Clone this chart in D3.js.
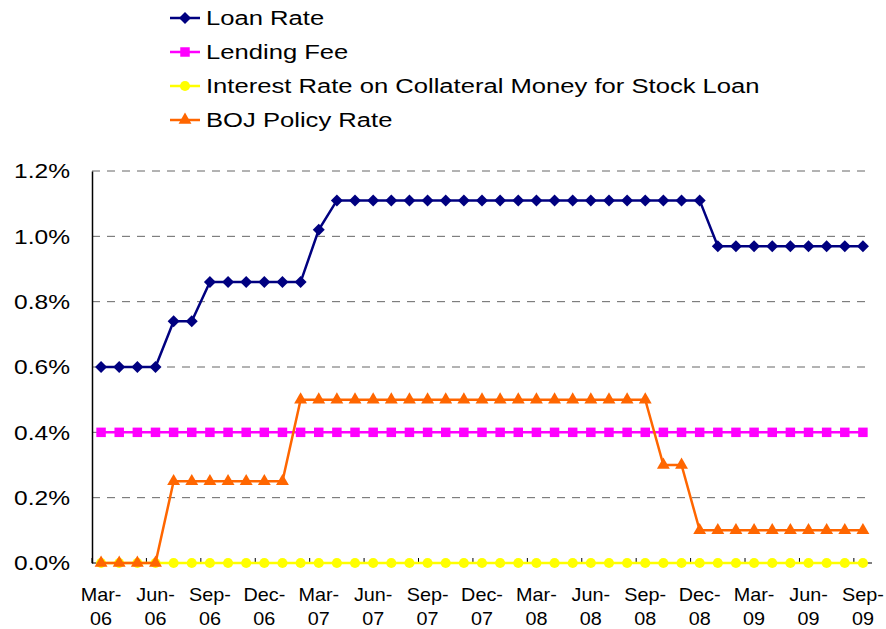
<!DOCTYPE html>
<html>
<head>
<meta charset="utf-8">
<script src="https://cdn.jsdelivr.net/npm/d3@7"></script>
<style>
  body { margin: 0; background: #fff; }
  text { font-family: "Liberation Sans", Arial, sans-serif; fill: #000; }
</style>
</head>
<body>
<div id="chart"></div>
<script>
// month-end observations, Mar-06 .. Sep-09
const months = [
  "Mar-06","Apr-06","May-06","Jun-06","Jul-06","Aug-06","Sep-06","Oct-06","Nov-06","Dec-06",
  "Jan-07","Feb-07","Mar-07","Apr-07","May-07","Jun-07","Jul-07","Aug-07","Sep-07","Oct-07","Nov-07","Dec-07",
  "Jan-08","Feb-08","Mar-08","Apr-08","May-08","Jun-08","Jul-08","Aug-08","Sep-08","Oct-08","Nov-08","Dec-08",
  "Jan-09","Feb-09","Mar-09","Apr-09","May-09","Jun-09","Jul-09","Aug-09","Sep-09"
];
const tickLabels = ["Mar-06","Jun-06","Sep-06","Dec-06","Mar-07","Jun-07","Sep-07","Dec-07",
  "Mar-08","Jun-08","Sep-08","Dec-08","Mar-09","Jun-09","Sep-09"];
const yTicks = [0, 0.2, 0.4, 0.6, 0.8, 1.0, 1.2];

const loanRate = [
  0.60,0.60,0.60,0.60,0.74,0.74,0.86,0.86,0.86,0.86,
  0.86,0.86,1.02,1.11,1.11,1.11,1.11,1.11,1.11,1.11,1.11,1.11,
  1.11,1.11,1.11,1.11,1.11,1.11,1.11,1.11,1.11,1.11,1.11,1.11,
  0.97,0.97,0.97,0.97,0.97,0.97,0.97,0.97,0.97
];
const lendingFee = [
  0.4,0.4,0.4,0.4,0.4,0.4,0.4,0.4,0.4,0.4,
  0.4,0.4,0.4,0.4,0.4,0.4,0.4,0.4,0.4,0.4,0.4,0.4,
  0.4,0.4,0.4,0.4,0.4,0.4,0.4,0.4,0.4,0.4,0.4,0.4,
  0.4,0.4,0.4,0.4,0.4,0.4,0.4,0.4,0.4
];
const collateralRate = [
  0,0,0,0,0,0,0,0,0,0,
  0,0,0,0,0,0,0,0,0,0,0,0,
  0,0,0,0,0,0,0,0,0,0,0,0,
  0,0,0,0,0,0,0,0,0
];
const bojRate = [
  0,0,0,0,0.25,0.25,0.25,0.25,0.25,0.25,
  0.25,0.5,0.5,0.5,0.5,0.5,0.5,0.5,0.5,0.5,0.5,0.5,
  0.5,0.5,0.5,0.5,0.5,0.5,0.5,0.5,0.5,0.3,0.3,0.1,
  0.1,0.1,0.1,0.1,0.1,0.1,0.1,0.1,0.1
];

// diamond as a square turned 45deg (excel style, wider than d3's diamond)
const squareDiamond = {
  draw(ctx, size) {
    const r = Math.sqrt(size / 2);
    ctx.moveTo(0, -r); ctx.lineTo(r, 0); ctx.lineTo(0, r); ctx.lineTo(-r, 0); ctx.closePath();
  }
};

const series = [
  { name: "Loan Rate", values: loanRate, color: "#000080", symbol: squareDiamond, size: 72 },
  { name: "Lending Fee", values: lendingFee, color: "#FF00FF", symbol: d3.symbolSquare, size: 90 },
  { name: "Interest Rate on Collateral Money for Stock Loan", values: collateralRate, color: "#FFFF00", symbol: d3.symbolCircle, size: 80 },
  { name: "BOJ Policy Rate", values: bojRate, color: "#FF6600", symbol: d3.symbolTriangle, size: 72 }
];

const W = 886, H = 629;
const margin = { top: 171, right: 14, bottom: 66, left: 92 };
const width = W - margin.left - margin.right;
const height = H - margin.top - margin.bottom;

const svg = d3.select("#chart").append("svg")
  .attr("width", W)
  .attr("height", H);

const g = svg.append("g")
  .attr("transform", `translate(${margin.left},${margin.top})`);

const x = d3.scaleBand().domain(months).range([0, width]).padding(0);
const y = d3.scaleLinear().domain([0, 1.2]).range([height, 0]);
const cx = d => x(d) + x.bandwidth() / 2;

// gridlines
g.append("g")
  .selectAll("line")
  .data(yTicks.filter(v => v > 0))
  .enter().append("line")
  .attr("x1", 0).attr("x2", width)
  .attr("y1", d => y(d)).attr("y2", d => y(d))
  .attr("stroke", "#666")
  .attr("stroke-width", 1)
  .attr("stroke-dasharray", "8,7");

// y axis
const yAxis = g.append("g")
  .call(d3.axisLeft(y).tickValues(yTicks).tickFormat(d => d3.format(".1f")(d) + "%").tickSize(0).tickPadding(0));
yAxis.select(".domain").attr("stroke", "#000").attr("stroke-width", 1.5);
yAxis.selectAll("text")
  .attr("x", 0)
  .attr("transform", "translate(-22,0) scale(1.17,1)")
  .style("font-size", "21px");

// x axis line + tick marks between categories
g.append("line")
  .attr("x1", 0).attr("x2", width)
  .attr("y1", height).attr("y2", height)
  .attr("stroke", "#000").attr("stroke-width", 1);

const tickIdx = months.map((m, i) => i).filter(i => i % 3 === 0);
g.append("g").selectAll("line")
  .data(tickIdx)
  .enter().append("line")
  .attr("x1", i => x(months[i])).attr("x2", i => x(months[i]))
  .attr("y1", height).attr("y2", height - 5)
  .attr("stroke", "#000");

const xl = g.append("g").selectAll("text")
  .data(tickLabels)
  .enter().append("text")
  .attr("text-anchor", "middle")
  .style("font-size", "18px")
  .attr("transform", d => `translate(${cx(d)},${height + 38}) scale(1.1,1)`);
xl.append("tspan").attr("x", 0).attr("y", 0).text(d => d.split("-")[0] + "-");
xl.append("tspan").attr("x", 0).attr("y", 24).text(d => d.split("-")[1]);

// series
const line = d3.line()
  .x((d, i) => cx(months[i]))
  .y(d => y(d));

series.forEach(s => {
  const sg = g.append("g");
  sg.append("path")
    .datum(s.values)
    .attr("fill", "none")
    .attr("stroke", s.color)
    .attr("stroke-width", 2.5)
    .attr("d", line);
  sg.selectAll("path.mk")
    .data(s.values)
    .enter().append("path")
    .attr("class", "mk")
    .attr("d", d3.symbol().type(s.symbol).size(s.size))
    .attr("transform", (d, i) => `translate(${cx(months[i])},${y(d)})`)
    .attr("fill", s.color);
});

// legend
const legend = svg.append("g").attr("transform", "translate(170,18)");
const li = legend.selectAll("g")
  .data(series)
  .enter().append("g")
  .attr("transform", (d, i) => `translate(0,${i * 34})`);
li.append("line")
  .attr("x1", 0).attr("x2", 30)
  .attr("stroke", d => d.color).attr("stroke-width", 2.5);
li.append("path")
  .attr("d", d => d3.symbol().type(d.symbol).size(d.size)())
  .attr("transform", "translate(15,0)")
  .attr("fill", d => d.color);
li.append("text")
  .attr("x", 0).attr("y", 0).attr("dy", "0.35em")
  .attr("transform", "translate(36,0) scale(1.22,1)")
  .style("font-size", "21px")
  .text(d => d.name);
</script>
</body>
</html>
